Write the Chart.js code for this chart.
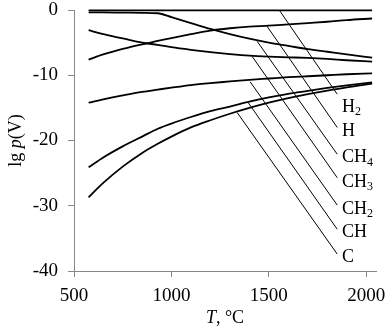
<!DOCTYPE html>
<html>
<head>
<meta charset="utf-8">
<script src="https://cdn.jsdelivr.net/npm/chart.js@4"></script>
<style>
  html, body { margin: 0; padding: 0; background: #fff; }
</style>
</head>
<body>
<canvas id="chart" width="391" height="333"></canvas>
<script>
// temperatures, °C
const temps = [575, 650, 750, 850, 930, 1000, 1100, 1200, 1300, 1400, 1500, 1600, 1700, 1800, 1900, 2030];

// lg p for each species
const lgH2  = [-0.05, -0.05, -0.05, -0.05, -0.05, -0.05, -0.05, -0.05, -0.05, -0.05, -0.05, -0.05, -0.05, -0.05, -0.05, -0.05];
const lgCH4 = [-0.35, -0.37, -0.4, -0.43, -0.5, -1.1, -2.0, -2.9, -3.7, -4.4, -5.0, -5.5, -6.0, -6.4, -6.8, -7.3];
const lgCH3 = [-3.1, -3.7, -4.35, -5.0, -5.35, -5.7, -6.1, -6.45, -6.75, -7.0, -7.15, -7.25, -7.35, -7.5, -7.7, -7.9];
const lgH   = [-7.6, -6.8, -5.95, -5.25, -4.75, -4.3, -3.7, -3.15, -2.8, -2.55, -2.4, -2.2, -2.0, -1.8, -1.55, -1.3];
const lgCH2 = [-14.2, -13.7, -13.1, -12.55, -12.2, -11.9, -11.5, -11.2, -10.95, -10.7, -10.5, -10.3, -10.15, -10.0, -9.85, -9.7];
const lgCH  = [-24.1, -22.6, -20.9, -19.4, -18.2, -17.4, -16.4, -15.5, -14.8, -14.05, -13.4, -12.85, -12.4, -11.95, -11.55, -11.1];
const lgC   = [-28.7, -26.5, -24.0, -21.9, -20.5, -19.4, -18.0, -16.9, -15.9, -15.0, -14.2, -13.5, -12.9, -12.35, -11.85, -11.3];

const xTicks = [500, 1000, 1500, 2000];
const yTicks = [0, -10, -20, -30, -40];

// label callouts (data units)
const labelMain = ['H', 'H', 'CH', 'CH', 'CH', 'CH', 'C'];
const labelSub  = ['2', '', '4', '3', '2', '', ''];
const leadFromT = [1553, 1491, 1440, 1414, 1404, 1394, 1337];
const leadFromV = [0, -2.5, -4.8, -7.1, -11.0, -14.2, -15.7];
const leadToT = 1851;
const leadToV = [-12.9, -18.0, -22.1, -25.7, -29.9, -33.6, -37.4];
const labelT = 1876;
const labelV = [-14.9, -18.6, -22.6, -26.4, -30.5, -34.1, -37.9];

const FONT = '"Liberation Serif", "Times New Roman", serif';

const series = [lgH2, lgCH4, lgCH3, lgH, lgCH2, lgCH, lgC];

const callouts = {
  id: 'callouts',
  afterDatasetsDraw(chart) {
    const { ctx, scales: { x, y }, chartArea } = chart;
    ctx.save();
    ctx.strokeStyle = '#000';
    ctx.lineWidth = 1;
    for (let i = 0; i < labelMain.length; i++) {
      ctx.beginPath();
      ctx.moveTo(x.getPixelForValue(leadFromT[i]), y.getPixelForValue(leadFromV[i]));
      ctx.lineTo(x.getPixelForValue(leadToT), y.getPixelForValue(leadToV[i]));
      ctx.stroke();
    }
    ctx.fillStyle = '#000';
    ctx.textBaseline = 'middle';
    ctx.textAlign = 'left';
    for (let i = 0; i < labelMain.length; i++) {
      const lx = x.getPixelForValue(labelT);
      const ly = y.getPixelForValue(labelV[i]);
      ctx.font = '18px ' + FONT;
      ctx.fillText(labelMain[i], lx, ly);
      if (labelSub[i]) {
        const w = ctx.measureText(labelMain[i]).width;
        ctx.font = '12px ' + FONT;
        ctx.fillText(labelSub[i], lx + w, ly + 5);
      }
    }

    // axis titles
    const midY = (chartArea.top + chartArea.bottom) / 2;
    const parts = [['lg ', ''], ['p', 'italic '], ['(V)', '']];
    ctx.save();
    ctx.translate(16, midY);
    ctx.rotate(-Math.PI / 2);
    let total = 0;
    parts.forEach(p => { ctx.font = p[1] + '18px ' + FONT; total += ctx.measureText(p[0]).width; });
    let cx = -total / 2;
    parts.forEach(p => { ctx.font = p[1] + '18px ' + FONT; ctx.fillText(p[0], cx, 0); cx += ctx.measureText(p[0]).width; });
    ctx.restore();

    const xparts = [['T', 'italic '], [', °C', '']];
    total = 0;
    xparts.forEach(p => { ctx.font = p[1] + '18px ' + FONT; total += ctx.measureText(p[0]).width; });
    cx = (chartArea.left + chartArea.right) / 2 - total / 2;
    xparts.forEach(p => { ctx.font = p[1] + '18px ' + FONT; ctx.fillText(p[0], cx, 318); cx += ctx.measureText(p[0]).width; });
    ctx.restore();
  }
};

new Chart(document.getElementById('chart'), {
  type: 'line',
  data: {
    datasets: series.map(s => ({
      data: temps.map((t, i) => ({ x: t, y: s[i] })),
      borderColor: '#000',
      borderWidth: 1.8,
      pointRadius: 0,
      cubicInterpolationMode: 'monotone',
      fill: false,
      clip: false
    }))
  },
  options: {
    responsive: false,
    animation: false,
    devicePixelRatio: 1,
    layout: { padding: { top: 10, right: 15, left: 0, bottom: 0 } },
    plugins: { legend: { display: false }, tooltip: { enabled: false } },
    scales: {
      x: {
        type: 'linear',
        min: 500,
        max: 2050,
        afterBuildTicks: s => { s.ticks = xTicks.map(v => ({ value: v })); },
        afterFit: s => { s.height = 62; s.paddingLeft = 0; s.paddingRight = 0; },
        grid: { drawOnChartArea: false, drawTicks: true, tickLength: 6, color: '#888' },
        border: { color: '#888', width: 1 },
        ticks: { color: '#000', font: { family: FONT, size: 19 }, padding: 8, maxRotation: 0, autoSkip: false,
                 callback: v => String(v) }
      },
      y: {
        min: -40,
        max: 0,
        afterBuildTicks: s => { s.ticks = yTicks.map(v => ({ value: v })); },
        afterFit: s => { s.width = 74; s.paddingTop = 0; s.paddingBottom = 0; },
        grid: { drawOnChartArea: false, drawTicks: true, tickLength: 6, color: '#888' },
        border: { color: '#888', width: 1 },
        ticks: { color: '#000', font: { family: FONT, size: 19 }, padding: 10, callback: v => String(v) }
      }
    }
  },
  plugins: [callouts]
});
</script>
</body>
</html>
